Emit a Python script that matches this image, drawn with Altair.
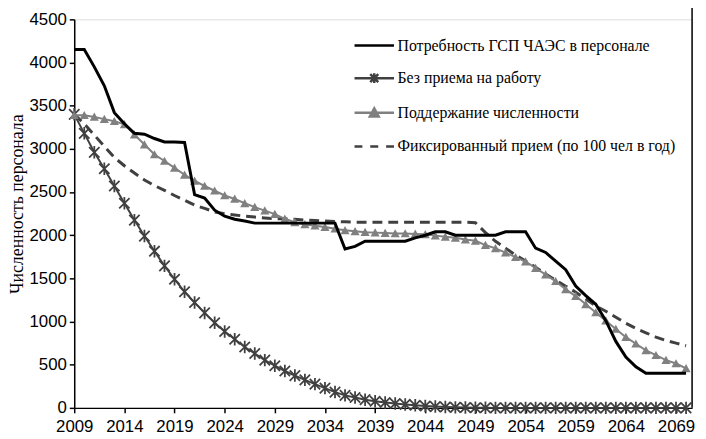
import altair as alt
import pandas as pd

years = list(range(2009, 2071))

series_names = [
    "Потребность ГСП ЧАЭС в персонале",
    "Без приема на работу",
    "Поддержание численности",
    "Фиксированный прием  (по 100 чел в год)",
]

demand = [4150, 4150, 3950, 3730, 3420, 3290, 3180, 3170, 3120, 3080,
          3080, 3075, 2470, 2430, 2290, 2220, 2185, 2165, 2140, 2140,
          2140, 2140, 2140, 2140, 2140, 2140, 2140, 1840, 1870, 1930,
          1930, 1930, 1930, 1930, 1970, 2000, 2040, 2040, 2000, 2000,
          2000, 2000, 2000, 2040, 2040, 2040, 1850, 1800, 1700, 1600,
          1410, 1300, 1200, 1010, 770, 590, 475, 400, 400, 400,
          400, 400]

no_hiring = [3400, 3180, 2960, 2770, 2570, 2370, 2175, 1990, 1815, 1645,
             1490, 1345, 1220, 1100, 985, 885, 795, 705, 630, 553,
             488, 427, 374, 324, 275, 229, 183, 145, 120, 95,
             77, 62, 50, 40, 30, 22, 15, 10, 6, 4,
             2, 1, 0, 0, 0, 0, 0, 0, 0, 0,
             0, 0, 0, 0, 0, 0, 0, 0, 0, 0,
             0, 0]

maintain = [3390, 3390, 3370, 3345, 3320, 3285, 3165, 3050, 2935, 2860,
            2780, 2700, 2630, 2570, 2515, 2460, 2420, 2370, 2325, 2285,
            2245, 2190, 2150, 2125, 2110, 2095, 2075, 2057, 2045, 2035,
            2030, 2025, 2020, 2020, 2015, 2010, 1995, 1981, 1970, 1950,
            1935, 1886, 1848, 1798, 1745, 1695, 1620, 1543, 1467, 1372,
            1295, 1200, 1105, 1010, 914, 819, 743, 667, 610, 553,
            514, 457]

fixed_hiring = [3400, 3290, 3160, 3030, 2900, 2805, 2720, 2640, 2575, 2520,
                2460, 2405, 2350, 2310, 2270, 2250, 2235, 2220, 2210, 2200,
                2190, 2190, 2185, 2175, 2170, 2165, 2160, 2155, 2150, 2150,
                2150, 2150, 2150, 2150, 2150, 2150, 2150, 2150, 2150, 2150,
                2145, 2030, 1930, 1850, 1770, 1700, 1630, 1550, 1480, 1410,
                1340, 1260, 1180, 1120, 1050, 980, 920, 870, 820, 780,
                750, 720]

x_ticks = list(range(2009, 2070, 5))
y_ticks = list(range(0, 4501, 500))

series_values = [demand, no_hiring, maintain, fixed_hiring]
rows = []
for name, vals in zip(series_names, series_values):
    for yr, v in zip(years, vals):
        rows.append({"year": yr, "series": name, "value": v})
df = pd.DataFrame(rows)

colors = ["#000000", "#404040", "#808080", "#404040"]

W, H = 625, 393

x_enc = alt.X("year:Q",
              scale=alt.Scale(domain=[2009, 2070.6], nice=False, zero=False),
              axis=alt.Axis(values=x_ticks, format="d", title=None, grid=False,
                            tickSize=5, labelPadding=6, labelFontSize=17,
                            labelFont="Liberation Sans", labelColor="black",
                            domainColor="black", tickColor="black",
                            domainWidth=1.5, tickWidth=1.5,
                            labelOverlap=False, labelFlush=False))
y_enc = alt.Y("value:Q",
              scale=alt.Scale(domain=[0, 4500], nice=False),
              axis=alt.Axis(values=y_ticks, format="d", title="Численность персонала",
                            grid=False, tickSize=5, labelPadding=3,
                            labelFontSize=17, labelFont="Liberation Sans",
                            labelColor="black", domainColor="black",
                            tickColor="black", domainWidth=1.5, tickWidth=1.5,
                            titleFont="Liberation Serif", titleFontSize=18,
                            titleFontWeight="normal", titleColor="black",
                            titleX=-57, titleY=H / 2 - 10, titleAngle=270,
                            titleAlign="center", titleBaseline="middle"))

base = alt.Chart(df)

def sel(i):
    return base.transform_filter(alt.datum.series == series_names[i])

line_demand = sel(0).mark_line(color=colors[0], strokeWidth=3).encode(x=x_enc, y=y_enc)
line_none = sel(1).mark_line(color=colors[1], strokeWidth=2).encode(x=x_enc, y=y_enc)
pts_none = sel(1).mark_point(
    shape="M-1,-1L1,1M-1,1L1,-1M0,-1.2L0,1.2", size=110, filled=False,
    color=colors[1], strokeWidth=1.8, opacity=1).encode(x=x_enc, y=y_enc)
line_maint = sel(2).mark_line(color=colors[2], strokeWidth=2).encode(x=x_enc, y=y_enc)
pts_maint = sel(2).mark_point(
    shape="M-1,0.85L0,-0.95L1,0.85Z", size=85, filled=True,
    color=colors[2], opacity=1).encode(x=x_enc, y=y_enc)
line_fixed = sel(3).mark_line(color=colors[3], strokeWidth=3,
                              strokeDash=[10, 6]).encode(x=x_enc, y=y_enc)

legend_paths = [
    "M-1.33,0L1.33,0",
    "M-1.33,0L1.33,0M-0.27,-0.27L0.27,0.27M-0.27,0.27L0.27,-0.27M0,-0.33L0,0.33",
    "M-1.33,0L1.33,0M-0.3,0.25L0,-0.3L0.3,0.25Z",
    "M-1.33,0L-0.8,0M-0.27,0L0.27,0M0.8,0L1.33,0",
]

leg = alt.Legend(title=None, orient="none", legendX=287, legendY=10,
                 symbolOpacity=1, symbolStrokeWidth=2.5, symbolSize=900,
                 labelOffset=7, rowPadding=8, padding=0,
                 labelFont="Liberation Serif", labelFontSize=16,
                 labelColor="black", labelLimit=400)

legend_layer = base.mark_point(opacity=0, size=900).encode(
    x=x_enc, y=y_enc,
    shape=alt.Shape("series:N", scale=alt.Scale(domain=series_names, range=legend_paths),
                    legend=leg),
    fill=alt.Fill("series:N", scale=alt.Scale(domain=series_names, range=colors),
                  legend=leg),
    stroke=alt.Stroke("series:N", scale=alt.Scale(domain=series_names, range=colors),
                      legend=leg),
)

border_df = pd.DataFrame({"edge": ["right"]})
border = alt.Chart(border_df).mark_rule(color="black", strokeWidth=1.5).encode(
    x=alt.value(W), y=alt.value(-17), y2=alt.value(H))

chart = alt.layer(
    line_fixed, line_none, pts_none, line_maint, pts_maint, line_demand,
    legend_layer, border
).properties(
    width=W, height=H,
    autosize=alt.AutoSizeParams(type="none"),
    padding={"left": 67, "top": 9, "right": 6, "bottom": 31},
).configure_view(stroke=None).configure_legend(
    labelFont="Liberation Serif", labelFontSize=16, labelColor="black"
).configure(background="white")

chart.save("out.html", embed_options={"renderer": "svg", "actions": False})
